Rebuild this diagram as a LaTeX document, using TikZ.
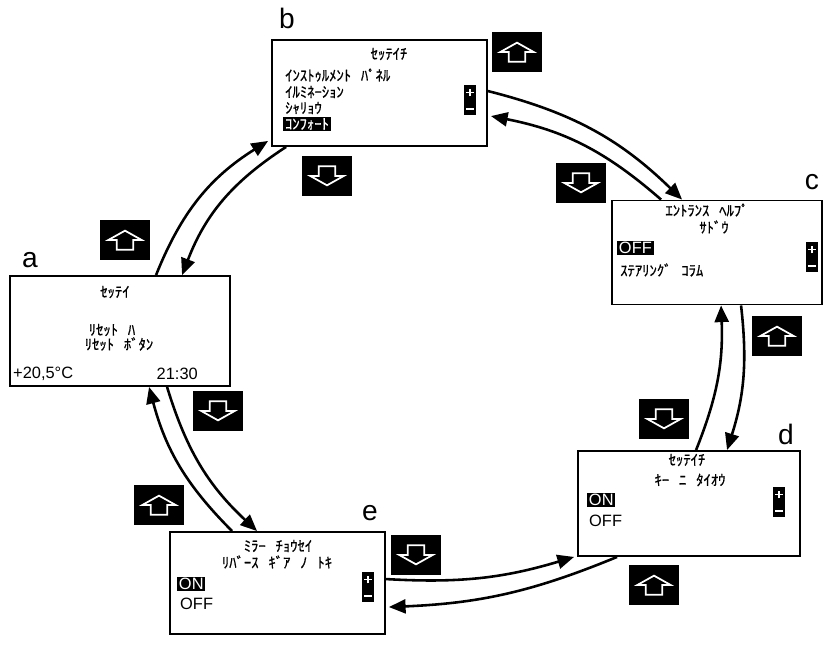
\documentclass[tikz,border=0pt]{standalone}
\usepackage{fontspec}
\setmainfont{Liberation Sans}
\newfontfamily\kana{Noto Sans CJK JP}[FakeBold=0.8, WordSpace=3]
\usetikzlibrary{arrows.meta,calc}

\tikzset{
  panel/.style={draw, line width=1.6pt, inner sep=0pt},
  kana/.style={font=\kana\fontsize{12.5}{14}\selectfont, inner sep=0pt},
  latin/.style={font=\fontsize{14}{16}\selectfont, inner sep=0pt},
  hilite/.style={fill=black, text=white, inner xsep=1.5pt, inner ysep=1pt},
  letter/.style={font=\fontsize{24}{28}\selectfont, inner sep=0pt},
  keybox/.style={fill=black, minimum width=1.5cm, minimum height=1.2cm, inner sep=0pt},
  upkey/.style={keybox, path picture={
    \draw[white, line width=1.5pt, shift={(path picture bounding box.center)}]
      (0cm,0.28cm) -- (0.5cm,0cm) -- (0.25cm,0cm) -- (0.25cm,-0.29cm)
      -- (-0.25cm,-0.29cm) -- (-0.25cm,0cm) -- (-0.5cm,0cm) -- cycle;}},
  downkey/.style={keybox, path picture={
    \draw[white, line width=1.5pt, shift={(path picture bounding box.center)}]
      (0cm,-0.28cm) -- (0.5cm,0cm) -- (0.25cm,0cm) -- (0.25cm,0.29cm)
      -- (-0.25cm,0.29cm) -- (-0.25cm,0cm) -- (-0.5cm,0cm) -- cycle;}},
  pmbar/.style={fill=black, minimum width=0.38cm, minimum height=0.88cm, inner sep=0pt,
    path picture={
    \draw[white, line width=1.4pt, shift={(path picture bounding box.center)}]
      (-0.11cm,0.22cm) -- (0.11cm,0.22cm) (0cm,0.11cm) -- (0cm,0.33cm)
      (-0.11cm,-0.27cm) -- (0.11cm,-0.27cm);}},
  link/.style={line width=2.2pt, -{Triangle[length=0.5cm,width=0.42cm]}},
}

\begin{document}
\begin{tikzpicture}[x=0.03cm, y=-0.03cm]
    \useasboundingbox (0,0) rectangle (828,647);

    % Panels
    \node[panel, minimum width=6.6cm, minimum height=3.3cm] (a) at (120,331) {};
    \node[panel, minimum width=6.45cm, minimum height=3.18cm] (b) at (379.5,93) {};
    \node[panel, minimum width=6.3cm, minimum height=3.12cm] (c) at (717,252.5) {};
    \node[panel, minimum width=6.66cm, minimum height=3.15cm] (d) at (689,503.5) {};
    \node[panel, minimum width=6.45cm, minimum height=3.06cm] (e) at (277.5,583) {};

    % Panel letters
    \node[letter] (lbl-a) at (30,260) {a};
    \node[letter] (lbl-b) at (287,18) {b};
    \node[letter] (lbl-c) at (812,182) {c};
    \node[letter] (lbl-d) at (786,434) {d};
    \node[letter] (lbl-e) at (370,513) {e};

    % Screen a
    \node[kana] (a-title) at (115,292) {ｾｯﾃｲ};
    \node[kana] (a-1) at (112,330) {ﾘｾｯﾄ ﾊ};
    \node[kana] (a-2) at (119,344) {ﾘｾｯﾄ ﾎﾞﾀﾝ};
    \node[latin, anchor=west] (a-temp) at (13,374) {+20,5°C};
    \node[latin, anchor=east] (a-time) at (198,374) {21:30};

    % Screen b
    \node[kana] (b-title) at (389,54) {ｾｯﾃｲﾁ};
    \node[kana, anchor=west] (b-1) at (285,75) {ｲﾝｽﾄｩﾙﾒﾝﾄ ﾊﾟﾈﾙ};
    \node[kana, anchor=west] (b-2) at (285,92) {ｲﾙﾐﾈｰｼｮﾝ};
    \node[kana, anchor=west] (b-3) at (285,108) {ｼｬﾘｮｳ};
    \node[kana, hilite, anchor=west] (b-4) at (283,124) {ｺﾝﾌｫｰﾄ};
    \node[pmbar] (b-pm) at (470,100) {};

    % Screen c
    \node[kana] (c-title) at (707,210) {ｴﾝﾄﾗﾝｽ ﾍﾙﾌﾟ};
    \node[kana] (c-sub) at (714,227) {ｻﾄﾞｳ};
    \node[latin, hilite, anchor=west] (c-off) at (617,248) {OFF};
    \node[kana, anchor=west] (c-col) at (620,270) {ｽﾃｱﾘﾝｸﾞ ｺﾗﾑ};
    \node[pmbar] (c-pm) at (812,257) {};

    % Screen d
    \node[kana] (d-title) at (687,460) {ｾｯﾃｲﾁ};
    \node[kana] (d-sub) at (690,480) {ｷｰ ﾆ ﾀｲｵｳ};
    \node[latin, hilite, anchor=west] (d-on) at (587,500) {ON};
    \node[latin, anchor=west] (d-off) at (589,521) {OFF};
    \node[pmbar] (d-pm) at (779,502) {};

    % Screen e
    \node[kana] (e-title) at (278,546) {ﾐﾗｰ ﾁｮｳｾｲ};
    \node[kana] (e-sub) at (277,562) {ﾘﾊﾞｰｽ ｷﾞｱ ﾉ ﾄｷ};
    \node[latin, hilite, anchor=west] (e-on) at (177,584) {ON};
    \node[latin, anchor=west] (e-off) at (180,604) {OFF};
    \node[pmbar] (e-pm) at (368,587) {};

    % Keys
    \node[upkey] (key-bu) at (517,52) {};
    \node[downkey] (key-bd) at (327,176) {};
    \node[upkey] (key-au) at (125,240) {};
    \node[downkey] (key-ad) at (218,411) {};
    \node[upkey] (key-eu) at (159,505) {};
    \node[downkey] (key-ed) at (416,555) {};
    \node[upkey] (key-du) at (654,585) {};
    \node[downkey] (key-dd) at (664,419) {};
    \node[upkey] (key-cu) at (777,336) {};
    \node[downkey] (key-cd) at (581,183) {};

    % Links between screens
    \draw[link] ($(a.north west)+(147,0)$) to[bend left=18] ($(b.south west)+(-3,-6)$);
    \draw[link] ($(b.south west)+(15,0)$) to[bend right=18] ($(a.north west)+(173,0)$);
    \draw[link] ($(b.north east)+(0,52)$) to[bend left=15] ($(c.north west)+(71,0)$);
    \draw[link] ($(c.north west)+(50,0)$) to[bend right=15] ($(b.north east)+(3,77)$);
    \draw[link] ($(c.south west)+(130,0)$) to[bend left=12] ($(d.north west)+(150,0)$);
    \draw[link] ($(d.north west)+(119,0)$) to[bend right=12] ($(c.south west)+(110,0)$);
    \draw[link] ($(e.north east)+(0,48)$) to[bend right=10] ($(d.south west)+(-3,0)$);
    \draw[link] ($(d.south west)+(40,0)$) to[bend left=10] ($(e.north east)+(3,76)$);
    \draw[link] ($(a.south west)+(158,0)$) to[bend right=15] ($(e.north west)+(88,0)$);
    \draw[link] ($(e.north west)+(63,0)$) to[bend left=15] ($(a.south west)+(140,0)$);
\end{tikzpicture}
\end{document}
